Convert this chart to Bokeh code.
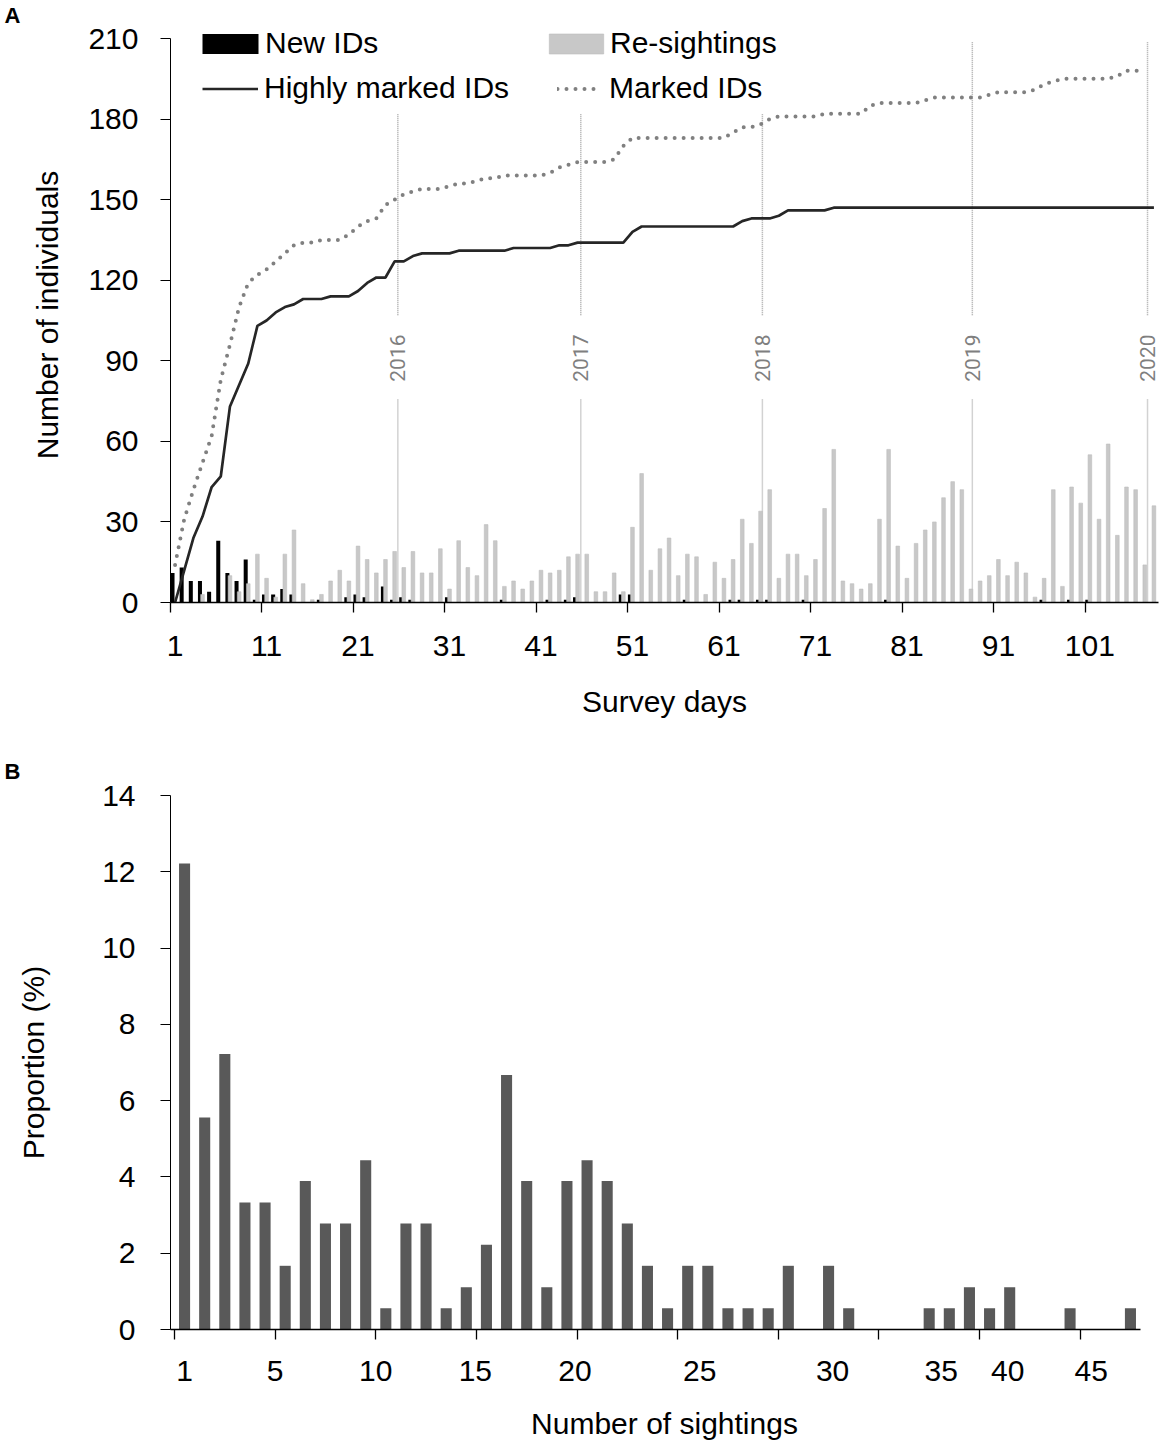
import math
from bokeh.plotting import figure
from bokeh.models import Range1d, FixedTicker, Legend, LegendItem, ColumnDataSource, Title
from bokeh.layouts import column
from bokeh.transform import dodge
from bokeh.embed import file_html
from bokeh.resources import INLINE
from bokeh.core.properties import value

FONT = "Liberation Sans"
FS = "30px"

# ---------------- Panel A data ----------------
days = list(range(1, 109))
new_ids = [11, 13, 8, 8, 4, 23, 11, 8, 16, 1,
           3, 3, 5, 3, 0, 0, 1, 0, 0, 2,
           3, 2, 0, 6, 1, 2, 1, 0, 0, 0,
           2, 0, 0, 0, 0, 0, 1, 0, 0, 0,
           0, 1, 0, 1, 2, 0, 0, 0, 0, 3,
           3, 0, 0, 0, 0, 0, 1, 0, 0, 0,
           0, 1, 1, 0, 1, 1, 0, 0, 0, 1,
           0, 0, 0, 0, 0, 0, 0, 0, 1, 0,
           0, 0, 0, 0, 0, 0, 0, 0, 0, 0,
           0, 0, 0, 0, 0, 1, 0, 0, 1, 0,
           1, 0, 0, 0, 0, 0, 0, 0]
resightings = [0, 0, 0, 3, 0, 0, 10, 4, 7, 18,
               9, 2, 18, 27, 7, 1, 3, 8, 12, 8,
               21, 16, 11, 16, 19, 13, 19, 11, 11, 20,
               5, 23, 13, 10, 29, 23, 6, 8, 5, 8,
               12, 11, 12, 17, 18, 18, 4, 4, 11, 4,
               28, 48, 12, 20, 24, 10, 18, 17, 3, 15,
               9, 16, 31, 22, 34, 42, 9, 18, 18, 10,
               16, 35, 57, 8, 7, 5, 7, 31, 57, 21,
               9, 22, 27, 30, 39, 45, 42, 5, 8, 10,
               16, 10, 15, 11, 2, 9, 42, 6, 43, 37,
               55, 31, 59, 25, 43, 42, 14, 36]
highly_marked = [0, 12, 24, 32, 43, 47, 73, 81, 89, 103,
                 105, 108, 110, 111, 113, 113, 113, 114, 114, 114,
                 116, 119, 121, 121, 127, 127, 129, 130, 130, 130,
                 130, 131, 131, 131, 131, 131, 131, 132, 132, 132,
                 132, 132, 133, 133, 134, 134, 134, 134, 134, 134,
                 138, 140, 140, 140, 140, 140, 140, 140, 140, 140,
                 140, 140, 142, 143, 143, 143, 144, 146, 146, 146,
                 146, 146, 147, 147, 147, 147, 147, 147, 147, 147,
                 147, 147, 147, 147, 147, 147, 147, 147, 147, 147,
                 147, 147, 147, 147, 147, 147, 147, 147, 147, 147,
                 147, 147, 147, 147, 147, 147, 147, 147]
marked = [14, 31, 42, 52, 62, 83, 96, 110, 119, 122,
          124, 127, 130, 133, 134, 134, 135, 135, 135, 137,
          140, 142, 143, 148, 150, 152, 153, 154, 154, 154,
          155, 156, 156, 157, 158, 158, 159, 159, 159, 159,
          159, 160, 162, 163, 164, 164, 164, 164, 165, 170,
          173, 173, 173, 173, 173, 173, 173, 173, 173, 173,
          173, 175, 177, 177, 178, 180, 181, 181, 181, 181,
          181, 182, 182, 182, 182, 182, 185, 186, 186, 186,
          186, 186, 187, 188, 188, 188, 188, 188, 188, 189,
          190, 190, 190, 190, 191, 193, 194, 195, 195, 195,
          195, 195, 195, 196, 198, 198, 198]
day_labels = [1, 11, 21, 31, 41, 51, 61, 71, 81, 91, 101]
day_tick_marks = [0.5, 10.5, 20.5, 30.5, 40.5, 50.5, 60.5, 70.5, 80.5, 90.5, 100.5]
y_ticks_a = [0, 30, 60, 90, 120, 150, 180, 210]

years = ["2016", "2017", "2018", "2019", "2020"]
year_pos = [25.35, 45.35, 65.2, 88.15, 107.3]
year_line_top = [182, 182, 182, 209, 209]

# ---------------- Panel B data ----------------
sightings = list(range(1, 49))
proportion = [12.22, 5.56, 7.22, 3.33, 3.33, 1.67, 3.89, 2.78, 2.78, 4.44,
              0.56, 2.78, 2.78, 0.56, 1.11, 2.22, 6.67, 3.89, 1.11, 3.89,
              4.44, 3.89, 2.78, 1.67, 0.56, 1.67, 1.67, 0.56, 0.56, 0.56,
              1.67, 0, 1.67, 0.56, 0, 0, 0, 0.56, 0.56, 1.11,
              0.56, 1.11, 0, 0, 0.56, 0, 0, 0.56]
sight_label_text = ["1", "5", "10", "15", "20", "25", "30", "35", "40", "45"]
sight_label_pos = [1, 5.5, 10.5, 15.45, 20.4, 26.6, 33.2, 38.6, 41.9, 46.05]
sight_tick_marks = [0.5, 5.5, 10.5, 15.5, 20.5, 25.5, 30.5, 35.5, 40.5, 45.5]
y_ticks_b = [0, 2, 4, 6, 8, 10, 12, 14]

W = 1160


def style_axes(p):
    for ax in (p.xaxis[0], p.yaxis[0]):
        ax.major_label_text_font = FONT
        ax.major_label_text_font_size = FS
        ax.major_label_text_color = "black"
        ax.axis_label_text_font = FONT
        ax.axis_label_text_font_size = FS
        ax.axis_label_text_font_style = "normal"
        ax.axis_label_text_color = "black"
        ax.axis_line_color = "black"
        ax.major_tick_in = 0
        ax.major_tick_out = 10
        ax.minor_tick_in = 0
        ax.minor_tick_out = 10
    p.xgrid.visible = False
    p.ygrid.visible = False
    p.outline_line_color = None


def panel_letter(text, standoff):
    return Title(text=text, align="left", offset=-166, standoff=standoff,
                 vertical_align="bottom", text_font=FONT, text_font_size="22px",
                 text_font_style="bold", text_color="black")


# ================= Panel A =================
srcA = ColumnDataSource(dict(day=days, new=new_ids, re=resightings, hm=highly_marked))
pA = figure(width=W, height=730, x_range=Range1d(0.5, 108.5), y_range=Range1d(0, 214.1),
            output_backend="svg", toolbar_location=None, title=panel_letter("A", 0),
            min_border_left=170, min_border_right=2, min_border_top=27, min_border_bottom=128)
style_axes(pA)

# year separators
pA.segment(x0=year_pos, y0=[0] * 5, x1=year_pos, y1=[76] * 5,
           line_color="#a6a6a6", line_width=1.5, line_dash="1 1")
pA.segment(x0=year_pos, y0=[107] * 5, x1=year_pos, y1=year_line_top,
           line_color="#a6a6a6", line_width=1.5, line_dash="1 1")
pA.text(x=year_pos, y=[91] * 5, text=years, angle=math.pi / 2,
        text_align="center", text_baseline="middle",
        text_font=value("Roboto"), text_font_size="21px", text_color="#7f7f7f")

r_new = pA.vbar(x=dodge("day", -0.28, range=pA.x_range), top="new", width=0.44,
                source=srcA, fill_color="black", line_color=None)
r_re = pA.vbar(x="day", top="re", width=0.4, source=srcA,
               fill_color="#c8c8c8", line_color="#bdbdbd", line_width=0.6)
r_hm = pA.line(x="day", y="hm", source=srcA, line_color="#262626", line_width=2.7)
r_mk = pA.line(x=days[:len(marked)], y=marked, line_color="#808080", line_width=4,
               line_dash="0 9", line_cap="round")

pA.xaxis.ticker = FixedTicker(ticks=day_labels, minor_ticks=day_tick_marks)
pA.xaxis.major_tick_line_color = None
pA.xaxis.minor_tick_line_color = "black"
pA.xaxis.axis_line_width = 1.5
pA.xaxis.minor_tick_line_width = 1.3
pA.xaxis.major_label_standoff = 23
pA.xaxis.axis_label = "Survey days"
pA.xaxis.axis_label_standoff = 26

pA.yaxis.ticker = FixedTicker(ticks=y_ticks_a)
pA.yaxis.bounds = (0, 210)
pA.yaxis.minor_tick_line_color = None
pA.yaxis.major_label_standoff = 22
pA.yaxis.axis_label = "Number of individuals"
pA.yaxis.axis_label_standoff = 21


def add_legend(p, label, rend, x, y, gw, gh, standoff):
    leg = Legend(items=[LegendItem(label=label, renderers=[rend])], location=(x, y),
                 glyph_width=gw, glyph_height=gh, label_standoff=standoff,
                 label_height=gh, padding=0, margin=0, spacing=0,
                 border_line_color=None, background_fill_alpha=0,
                 label_text_font=FONT, label_text_font_size=FS, label_text_color="black")
    p.add_layout(leg)


add_legend(pA, "New IDs", r_new, 25, 542, 70, 25, 0)
add_legend(pA, "Re-sightings", r_re, 372, 542, 68, 25, 0)
add_legend(pA, "Highly marked IDs", r_hm, 32, 497, 56, 25, 6)
add_legend(pA, "Marked IDs", r_mk, 387, 497, 41, 25, 11)

# ================= Panel B =================
# same frame borders as panel A (the column aligns them); range padded so the
# category slots 0.5..48.5 keep their place
pB = figure(width=W, height=712, x_range=Range1d(0.3012, 49.394), y_range=Range1d(0, 14),
            output_backend="svg", toolbar_location=None, title=panel_letter("B", 23),
            min_border_left=170, min_border_right=2, min_border_top=65, min_border_bottom=112)
style_axes(pB)
pB.vbar(x=sightings, top=proportion, width=0.55, fill_color="#595959", line_color=None)

pB.xaxis.ticker = FixedTicker(ticks=sight_label_pos, minor_ticks=sight_tick_marks)
pB.xaxis.bounds = (0.3012, 48.5)
pB.xaxis.major_label_overrides = {pos: t for pos, t in zip(sight_label_pos, sight_label_text)}
pB.xaxis.major_tick_line_color = None
pB.xaxis.minor_tick_line_color = "black"
pB.xaxis.axis_line_width = 1.5
pB.xaxis.minor_tick_line_width = 1.3
pB.xaxis.major_label_standoff = 21
pB.xaxis.axis_label = "Number of sightings"
pB.xaxis.axis_label_standoff = 23

pB.yaxis.ticker = FixedTicker(ticks=y_ticks_b)
pB.yaxis.minor_tick_line_color = None
pB.yaxis.major_label_standoff = 25
pB.yaxis.axis_label = "Proportion (%)"
pB.yaxis.axis_label_standoff = 49

layout = column(pA, pB)
open("out.html", "w").write(file_html(layout, INLINE))
